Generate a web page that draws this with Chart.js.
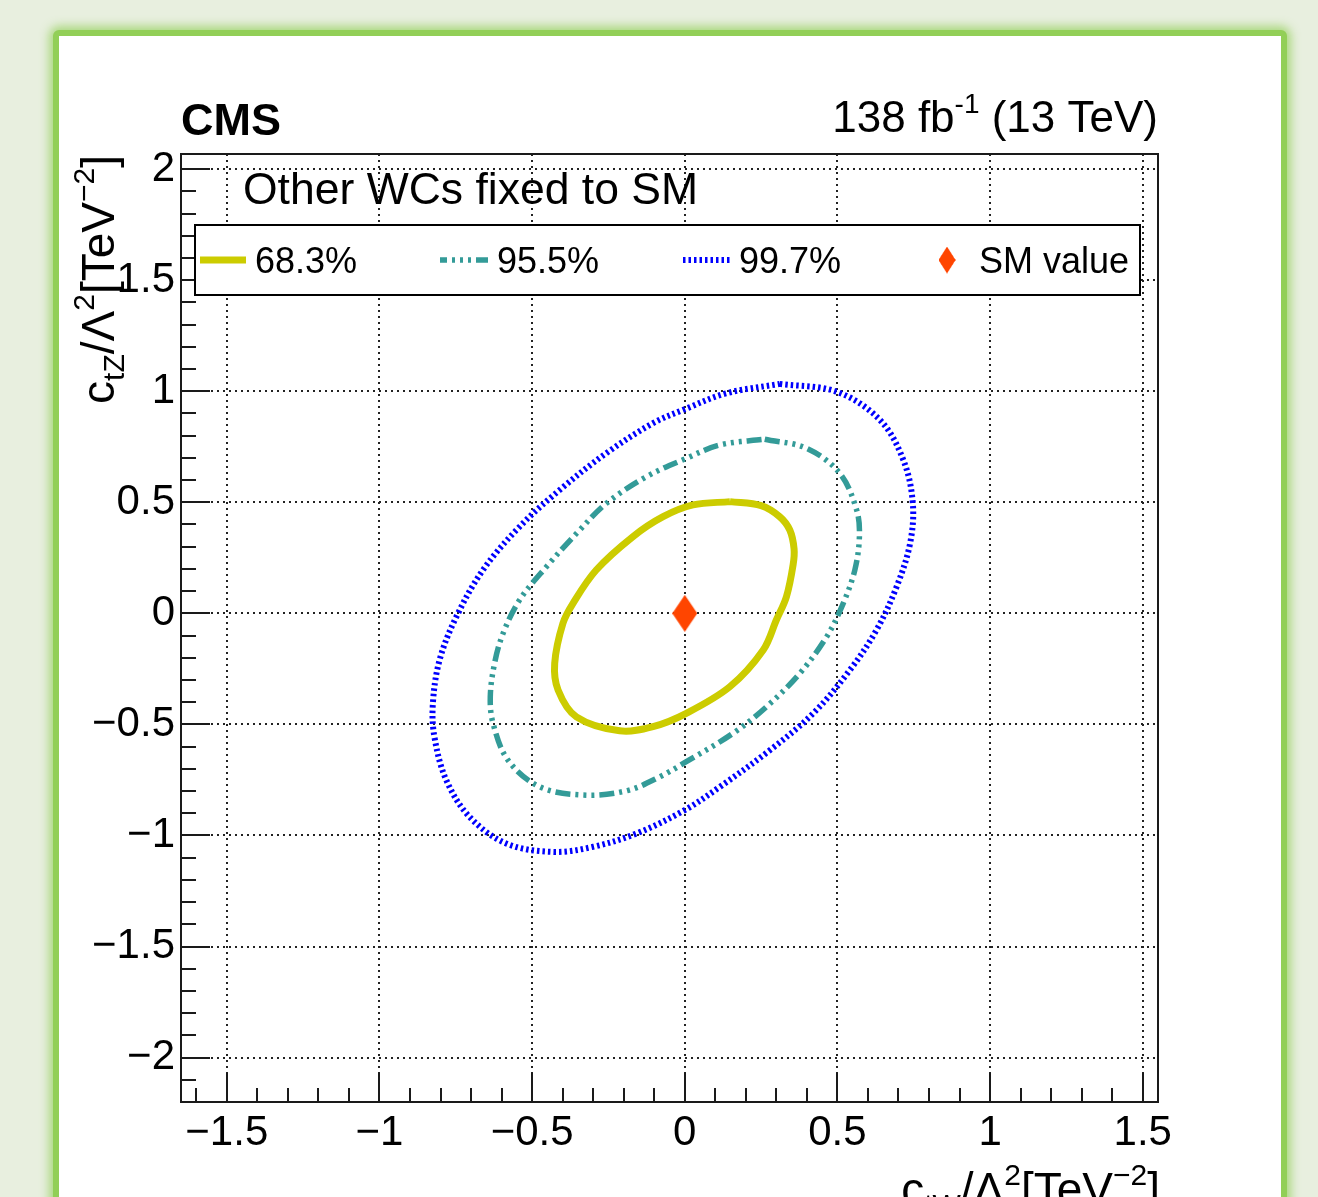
<!DOCTYPE html>
<html>
<head>
<meta charset="utf-8">
<script src="https://cdn.jsdelivr.net/npm/chart.js@4.4.1/dist/chart.umd.min.js"></script>
<style>
html, body { margin: 0; padding: 0; }
body { width: 1318px; height: 1197px; overflow: hidden; background: #e8efdf; position: relative; }
.card { position: absolute; left: 53px; top: 30px; width: 1222px; height: 1220px; background: #fff;
        border: 6px solid #92cf57; border-radius: 6px; box-shadow: 0 0 10px 4px rgba(146, 207, 87, .7); }
#plot { position: absolute; left: 0; top: 0; }
</style>
</head>
<body>
<div class="card"></div>
<canvas id="plot" width="1318" height="1197"></canvas>
<script>
// contours: c_tW (x) vs c_tZ (y), clockwise from the top
const ctw68 = [0.148, 0.250, 0.311, 0.344, 0.358, 0.355, 0.333, 0.300, 0.257, 0.148, 0.005, -0.104, -0.213, -0.355, -0.415, -0.426, -0.399, -0.366, -0.290, -0.170, -0.071, 0.027];
const ctz68 = [0.503, 0.485, 0.435, 0.375, 0.290, 0.220, 0.075, -0.030, -0.165, -0.330, -0.450, -0.510, -0.529, -0.466, -0.345, -0.225, -0.045, 0.045, 0.195, 0.345, 0.435, 0.488];

const ctw95 = [0.262, 0.399, 0.508, 0.563, 0.572, 0.557, 0.519, 0.465, 0.377, 0.268, 0.158, 0.005, -0.082, -0.191, -0.333, -0.475, -0.579, -0.628, -0.637, -0.623, -0.595, -0.541, -0.453, -0.344, -0.257, -0.126, 0.005, 0.115];
const ctz95 = [0.784, 0.743, 0.630, 0.465, 0.345, 0.195, 0.045, -0.105, -0.270, -0.420, -0.540, -0.668, -0.736, -0.799, -0.818, -0.781, -0.661, -0.495, -0.376, -0.225, -0.090, 0.060, 0.210, 0.375, 0.495, 0.615, 0.698, 0.758];

const ctw99 = [0.311, 0.497, 0.639, 0.716, 0.747, 0.738, 0.694, 0.628, 0.541, 0.421, 0.279, 0.115, 0.000, -0.158, -0.300, -0.432, -0.585, -0.705, -0.781, -0.820, -0.825, -0.803, -0.748, -0.661, -0.541, -0.410, -0.257, -0.104, 0.000, 0.137];
const ctz99 = [1.033, 0.998, 0.871, 0.690, 0.495, 0.315, 0.120, -0.075, -0.255, -0.450, -0.616, -0.781, -0.886, -0.991, -1.051, -1.074, -1.036, -0.916, -0.751, -0.556, -0.405, -0.210, -0.015, 0.195, 0.390, 0.555, 0.721, 0.856, 0.919, 0.991];

const smValue = [{ x: 0, y: 0 }];

const seriesNames = ['68.3%', '95.5%', '99.7%', 'SM value'];
const xTicks = [-1.5, -1, -0.5, 0, 0.5, 1, 1.5];
const yTicks = [-2, -1.5, -1, -0.5, 0, 0.5, 1, 1.5, 2];

const FONT = '"Liberation Sans", Arial, Helvetica, sans-serif';
Chart.defaults.font.family = FONT;

function loop(xs, ys) {
  const p = xs.map((x, i) => ({ x: x, y: ys[i] }));
  p.push({ x: xs[0], y: ys[0] });
  return p;
}

// tall red diamond marker
const diamond = document.createElement('canvas');
diamond.width = 25; diamond.height = 37;
(function () {
  const c = diamond.getContext('2d');
  c.fillStyle = '#ff4500';
  c.beginPath();
  c.moveTo(12.5, 0); c.lineTo(25, 18.5); c.lineTo(12.5, 37); c.lineTo(0, 18.5);
  c.closePath(); c.fill();
})();

function fmt(v) {
  return String(v).replace('-', '\u2212');
}

// text with sub/superscripts: [text, size, dy]
function rich(ctx, parts, x, y, align) {
  let w = 0;
  parts.forEach(p => { ctx.font = p[1] + 'px ' + FONT; w += ctx.measureText(p[0]).width; });
  let cx = align === 'right' ? x - w : x;
  ctx.textAlign = 'left';
  ctx.textBaseline = 'alphabetic';
  parts.forEach(p => {
    ctx.font = p[1] + 'px ' + FONT;
    ctx.fillText(p[0], cx, y + (p[2] || 0));
    cx += ctx.measureText(p[0]).width;
  });
}

const decor = {
  id: 'decor',
  afterDraw(chart) {
    const ctx = chart.ctx, a = chart.chartArea, xs = chart.scales.x, ys = chart.scales.y;
    ctx.save();

    // inner tick marks + frame
    ctx.strokeStyle = '#1a1a1a';
    ctx.lineWidth = 2;
    ctx.beginPath();
    for (let i = -16; i <= 15; i++) {
      const px = Math.round(xs.getPixelForValue(i / 10));
      const len = i % 5 === 0 ? 29 : 14;
      ctx.moveTo(px, a.bottom); ctx.lineTo(px, a.bottom - len);
    }
    for (let i = -22; i <= 20; i++) {
      const py = Math.round(ys.getPixelForValue(i / 10));
      const len = i % 5 === 0 ? 29 : 15;
      ctx.moveTo(a.left, py); ctx.lineTo(a.left + len, py);
    }
    ctx.stroke();
    ctx.strokeRect(a.left, a.top, a.right - a.left, a.bottom - a.top);

    // legend box
    const bx = 195, by = 225, bw = 945, bh = 70, cy = by + bh / 2;
    ctx.fillStyle = '#fff';
    ctx.fillRect(bx, by, bw, bh);
    ctx.strokeStyle = '#000';
    ctx.lineWidth = 2;
    ctx.strokeRect(bx, by, bw, bh);

    const ds = chart.data.datasets;
    const samples = [[200, 246], [440, 488], [683, 730]];
    samples.forEach((s, i) => {
      const d = ds[i];
      ctx.save();
      ctx.strokeStyle = d.borderColor;
      ctx.lineWidth = d.borderWidth;
      ctx.setLineDash(d.borderDash || []);
      ctx.lineDashOffset = i === 1 ? 8 : 0;
      ctx.beginPath();
      ctx.moveTo(s[0], cy); ctx.lineTo(s[1], cy);
      ctx.stroke();
      ctx.restore();
    });
    ctx.drawImage(diamond, 947 - 8.5, cy - 13.5, 17, 27);

    ctx.fillStyle = '#000';
    ctx.font = '36px ' + FONT;
    ctx.textAlign = 'left';
    ctx.textBaseline = 'alphabetic';
    [255, 497, 739, 979].forEach((tx, i) => ctx.fillText(seriesNames[i], tx, cy + 13));

    // headers
    ctx.font = 'bold 45px ' + FONT;
    ctx.fillText('CMS', 181, 135);
    rich(ctx, [['138 fb', 44], ['-1', 28, -19], [' (13 TeV)', 44]], 1158, 132, 'right');
    ctx.font = '44.5px ' + FONT;
    ctx.fillText('Other WCs fixed to SM', 243, 204);

    // axis titles
    const title = w => [['c', 46], [w, 30, 10], ['/\u039b', 46], ['2', 30, -20], ['[TeV', 46], ['\u22122', 30, -20], [']', 46]];
    rich(ctx, title('tW'), 1160, 1205, 'right');
    ctx.save();
    ctx.translate(114, 155);
    ctx.rotate(-Math.PI / 2);
    rich(ctx, title('tZ'), 0, 0, 'right');
    ctx.restore();

    ctx.restore();
  }
};

const gridOpts = { color: '#222', lineWidth: 2, drawTicks: false };
const borderOpts = { display: false, dash: [2, 4] };

new Chart(document.getElementById('plot'), {
  type: 'scatter',
  data: {
    datasets: [
      { label: seriesNames[0], data: loop(ctw68, ctz68), showLine: true, borderColor: '#cccc00', borderWidth: 7,
        pointRadius: 0, tension: 0.35, fill: false },
      { label: seriesNames[1], data: loop(ctw95, ctz95), showLine: true, borderColor: '#339b98', borderWidth: 5.5,
        borderDash: [15, 5, 3, 5, 3, 5, 3, 5], pointRadius: 0, tension: 0.35, fill: false },
      { label: seriesNames[2], data: loop(ctw99, ctz99), showLine: true, borderColor: '#0000ff', borderWidth: 6,
        borderDash: [2.5, 3], pointRadius: 0, tension: 0.35, fill: false },
      { label: seriesNames[3], data: smValue, showLine: false, pointStyle: diamond, pointRadius: 12 }
    ]
  },
  options: {
    responsive: false,
    animation: false,
    devicePixelRatio: 1,
    layout: { padding: { left: 0, top: 154, right: 160, bottom: 0 } },
    plugins: { legend: { display: false }, tooltip: { enabled: false } },
    scales: {
      x: {
        type: 'linear', min: -1.65, max: 1.55,
        afterBuildTicks: s => { s.ticks = xTicks.map(v => ({ value: v })); },
        afterFit: s => { s.height = 95; },
        ticks: { color: '#000', font: { size: 42 }, padding: 6, maxRotation: 0, autoSkip: false, callback: v => fmt(v) },
        grid: gridOpts, border: borderOpts
      },
      y: {
        type: 'linear', min: -2.2, max: 2.068,
        afterBuildTicks: s => { s.ticks = yTicks.map(v => ({ value: v })); },
        afterFit: s => { s.width = 181; },
        ticks: { color: '#000', font: { size: 42 }, padding: 6, autoSkip: false, callback: v => fmt(v) },
        grid: gridOpts, border: borderOpts
      }
    }
  },
  plugins: [decor]
});
</script>
</body>
</html>
